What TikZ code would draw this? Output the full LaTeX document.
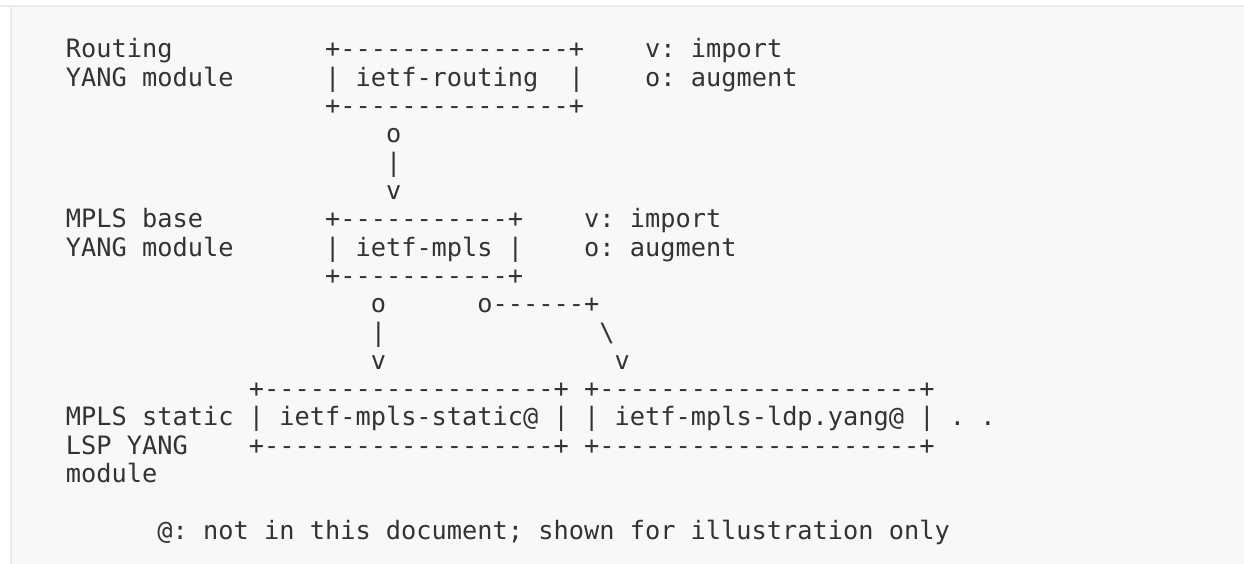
\documentclass[tikz,border=0pt]{standalone}
\usepackage{fontspec}
\setmonofont{DejaVu Sans Mono}
\definecolor{pagebg}{HTML}{F8F8F8}
\definecolor{rulegray}{HTML}{EBEBEB}
\definecolor{ink}{HTML}{333333}
\tikzset{
  art/.style={anchor=base west, inner sep=0pt, outer sep=0pt, text=ink,
    font=\ttfamily\fontsize{25.31pt}{28.3pt}\selectfont},
}
\begin{document}
\begin{tikzpicture}[x=15.24pt, y=28.3pt]
   \useasboundingbox (-66pt,58pt) rectangle (1178pt,-506pt);
   \fill[pagebg] (-56pt,53pt) rectangle (1178pt,-506pt);
   \draw[rulegray, line width=2.2pt] (-66pt,52pt) -- (1178pt,52pt);
   \draw[rulegray, line width=2.2pt] (-55pt,52pt) -- (-55pt,-506pt);
   % routing module
   \node[art] (lblrouteA) at (0,0) {Routing};
   \node[art] (lblrouteB) at (0,-1) {YANG module};
   \node[art] (routetop) at (17,0) {+---------------+};
   \node[art] (routeleft) at (17,-1) {|};
   \node[art] (routename) at (19,-1) {ietf-routing};
   \node[art] (routeright) at (33,-1) {|};
   \node[art] (routebot) at (17,-2) {+---------------+};
   \node[art] (keyimpA) at (38,0) {v: import};
   \node[art] (keyaugA) at (38,-1) {o: augment};
   \node[art] (augA) at (21,-3) {o};
   \node[art] (augAline) at (21,-4) {|};
   \node[art] (augAtip) at (21,-5) {v};
   % mpls base module
   \node[art] (lblmplsA) at (0,-6) {MPLS base};
   \node[art] (lblmplsB) at (0,-7) {YANG module};
   \node[art] (mplstop) at (17,-6) {+-----------+};
   \node[art] (mplsleft) at (17,-7) {|};
   \node[art] (mplsname) at (19,-7) {ietf-mpls};
   \node[art] (mplsright) at (29,-7) {|};
   \node[art] (mplsbot) at (17,-8) {+-----------+};
   \node[art] (keyimpB) at (34,-6) {v: import};
   \node[art] (keyaugB) at (34,-7) {o: augment};
   \node[art] (augB) at (20,-9) {o};
   \node[art] (augBline) at (20,-10) {|};
   \node[art] (augBtip) at (20,-11) {v};
   \node[art] (augC) at (27,-9) {o------+};
   \node[art] (augCline) at (35,-10) {\textbackslash};
   \node[art] (augCtip) at (36,-11) {v};
   % static lsp and ldp modules
   \node[art] (lblstaticA) at (0,-13) {MPLS static};
   \node[art] (lblstaticB) at (0,-14) {LSP YANG};
   \node[art] (lblstaticC) at (0,-15) {module};
   \node[art] (stattop) at (12,-12) {+-------------------+};
   \node[art] (statleft) at (12,-13) {|};
   \node[art] (statname) at (14,-13) {ietf-mpls-static@};
   \node[art] (statright) at (32,-13) {|};
   \node[art] (statbot) at (12,-14) {+-------------------+};
   \node[art] (ldptop) at (34,-12) {+---------------------+};
   \node[art] (ldpleft) at (34,-13) {|};
   \node[art] (ldpname) at (36,-13) {ietf-mpls-ldp.yang@};
   \node[art] (ldpright) at (56,-13) {|};
   \node[art] (ldpbot) at (34,-14) {+---------------------+};
   \node[art] (ellipsis) at (58,-13) {. .};
   \node[art] (footnote) at (6,-17) {@: not in this document; shown for illustration only};
\end{tikzpicture}
\end{document}
